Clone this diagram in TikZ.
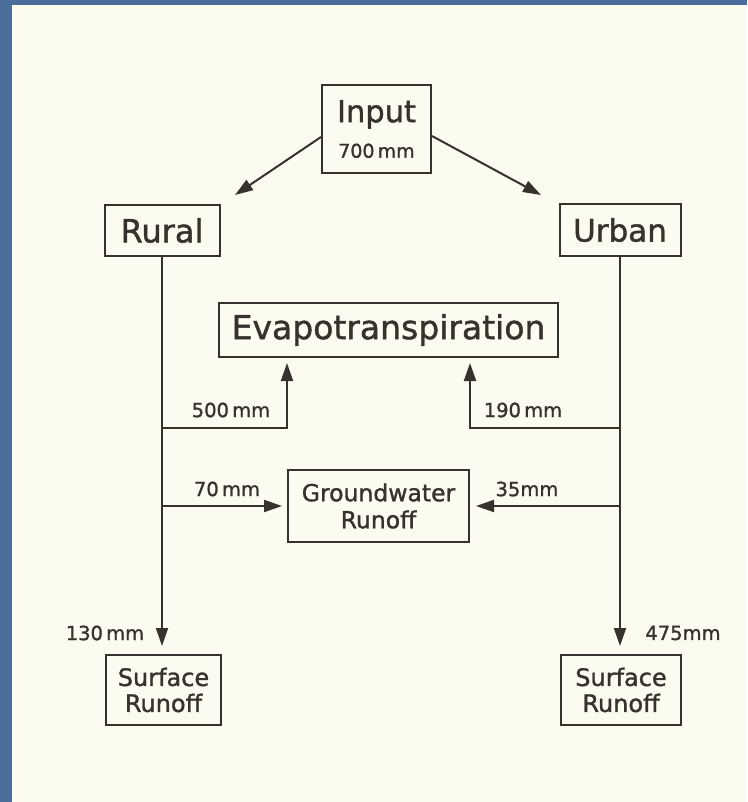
\documentclass[tikz,border=0pt]{standalone}
\usepackage{fontspec}
\setmainfont{DejaVu Sans}[RawFeature={embolden=1.3}]
\usetikzlibrary{arrows.meta}
\definecolor{ink}{HTML}{37322E}
\definecolor{paper}{HTML}{FCFBF0}
\definecolor{slate}{HTML}{4B6D9C}
\tikzset{
  box/.style={draw=ink, line width=2pt, inner sep=0pt, text=ink, align=center},
  flow/.style={draw=ink, line width=2pt, -{Triangle[length=18pt,width=12pt]}},
  amount/.style={text=ink, inner sep=0pt, font=\fontsize{19.5}{22}\selectfont}
}
\begin{document}
\begin{tikzpicture}[x=1pt,y=-1pt]
 \useasboundingbox (0,0) rectangle (747,802);
 \fill[slate] (0,0) rectangle (747,802);
 \fill[paper] (12,5) rectangle (747,802);
 % boxes
 \node[box, minimum width=109pt, minimum height=88pt, font=\fontsize{30.5}{35.5}\selectfont] (input) at (376.5,129) {Input\\{\fontsize{19}{20}\selectfont 700\,mm}};
 \node[box, minimum width=115pt, minimum height=51pt, font=\fontsize{32}{38}\selectfont] (rural) at (162,230.5) {Rural};
 \node[box, minimum width=121pt, minimum height=52pt, font=\fontsize{31}{38}\selectfont] (urban) at (620,230) {Urban};
 \node[box, minimum width=339pt, minimum height=54pt, font=\fontsize{33}{40}\selectfont] (evap) at (388.5,330) {Evapotranspiration};
 \node[box, minimum width=181pt, minimum height=72pt, font=\fontsize{23.5}{27}\selectfont] (ground) at (378.5,506) {Groundwater\\Runoff};
 \node[box, minimum width=115pt, minimum height=70pt, font=\fontsize{24}{26}\selectfont] (surfl) at (163.5,690) {Surface\\Runoff};
 \node[box, minimum width=120pt, minimum height=70pt, font=\fontsize{24}{26}\selectfont] (surfr) at (621,690) {Surface\\Runoff};
 % arrows
 \coordinate (rtip) at (235,195);
 \coordinate (utip) at (541,195);
 \draw[flow] ([yshift=-8pt]input.west) -- (rtip);
 \draw[flow] ([yshift=-7pt]input.east) -- (utip);
 \draw[flow, shorten >=8pt] (rural.south) -- (rural.south |- surfl.north);
 \draw[flow, shorten >=8pt] (urban.south) -- (urban.south |- surfr.north);
 \draw[flow, shorten >=5pt] (rural.south |- 0,428) -| (ground.west |- evap.south);
 \draw[flow, shorten >=5pt] (urban.south |- 0,428) -| (ground.east |- evap.south);
 \draw[flow, shorten >=5pt] (rural.south |- ground.west) -- (ground.west);
 \draw[flow, shorten >=6pt] (urban.south |- ground.east) -- (ground.east);
 % amounts
 \node[amount] (l500) at (231,410) {500\,mm};
 \node[amount] (l190) at (523,410) {190\,mm};
 \node[amount] (l70) at (227,489) {70\,mm};
 \node[amount] (l35) at (527,489) {35mm};
 \node[amount] (l130) at (105,633) {130\,mm};
 \node[amount] (l475) at (683,633) {475mm};
\end{tikzpicture}
\end{document}
